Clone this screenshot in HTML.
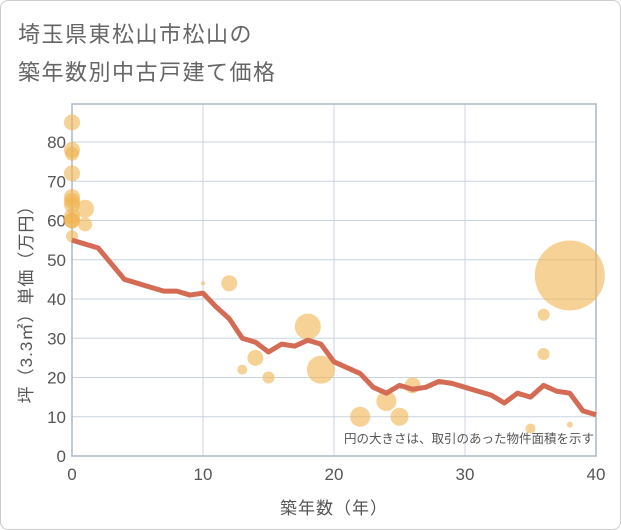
<!DOCTYPE html>
<html><head><meta charset="utf-8"><style>
body{margin:0;background:#fff;}
#wrap{position:relative;width:619px;height:528px;border:1px solid #ccc;border-radius:8px;overflow:hidden;font-family:"Liberation Sans","Noto Sans CJK JP",sans-serif;}
.title{position:absolute;left:17px;font-size:22px;color:#666;letter-spacing:1.5px;}
</style></head><body>
<div id="wrap">
<div class="title" style="top:16px">埼玉県東松山市松山の</div>
<div class="title" style="top:54px">築年数別中古戸建て価格</div>
<svg id="chart" width="621" height="530" style="position:absolute;left:-1px;top:-1px"></svg>
</div>
<script>
const lineYears=[0,1,2,3,4,5,6,7,8,9,10,11,12,13,14,15,16,17,18,19,20,21,22,23,24,25,26,27,28,29,30,31,32,33,34,35,36,37,38,39,40];
const linePrices=[55,54,53,49,45,44,43,42,42,41,41.5,38,35,30,29,26.5,28.5,28,29.5,28.5,24,22.5,21,17.5,16,18,17,17.5,19,18.5,17.5,16.5,15.5,13.5,16,15,18,16.5,16,11.5,10.5];
const bubbleYears=[0,0,0,0,0,0,0,0,0,0,0,1,1,10,12,13,14,15,18,19,22,24,25,26,35,36,36,38,38];
const bubblePrices=[85,78,77,72,66,65,64,61,60,60,56,63,59,44,44,22,25,20,33,22,10,14,10,18,7,36,26,46,8];
const bubbleAreas=[64,64,49,64,64,64,64,64,64,64,36,81,49,4,64,25,64,36,169,196,100,100,81,64,25,36,36,1225,9];
const xTicks=[0,10,20,30,40];
const yTicks=[0,10,20,30,40,50,60,70,80];
const NS="http://www.w3.org/2000/svg";
const svg=document.getElementById('chart');
const X0=72,X1=596,Y0=456,YT=104;
function xs(v){return X0+(X1-X0)*v/40;}
function ys(v){return Y0-v*3.925;}
function mk(t,a){const e=document.createElementNS(NS,t);for(const k in a)e.setAttribute(k,a[k]);svg.appendChild(e);return e;}
yTicks.forEach(t=>{
 const l=mk('line',{x1:X0,x2:X1,y1:ys(t),y2:ys(t),stroke:'#c8d4e0','stroke-width':1});
 
 
 const tx=mk('text',{x:X0-6,y:ys(t)+6,'text-anchor':'end','font-size':17,fill:'#555'});
 tx.textContent=t;
 
 
});
xTicks.forEach(t=>{
 const l=mk('line',{x1:xs(t),x2:xs(t),y1:YT,y2:Y0,stroke:'#c8d4e0','stroke-width':1});
 
 
 const tx=mk('text',{x:xs(t),y:Y0+24,'text-anchor':'middle','font-size':17,fill:'#555'});
 tx.textContent=t;
 
 
});
const frame=mk('rect',{x:X0,y:YT,width:X1-X0,height:Y0-YT,fill:'none',stroke:'#a8b8c8','stroke-width':1.5});


bubbleYears.forEach((yr,i)=>{
 const c=mk('circle',{cx:xs(yr),cy:ys(bubblePrices[i]),r:Math.sqrt(bubbleAreas[i]),fill:'rgba(240,180,80,0.6)'});
 
 
});
const p=mk('polyline',{points:lineYears.map((y,i)=>xs(y)+','+ys(linePrices[i])).join(' '),fill:'none',stroke:'#d46b55','stroke-width':5,'stroke-linejoin':'round'});


const note=mk('text',{x:594,y:443,'text-anchor':'end','font-size':12.5,fill:'#555'});
note.textContent='円の大きさは、取引のあった物件面積を示す';


const xt=mk('text',{x:334,y:514,'text-anchor':'middle','font-size':17,fill:'#555','letter-spacing':1});
xt.textContent='築年数（年）';


const yt=mk('text',{x:0,y:0,'text-anchor':'middle','font-size':17,fill:'#555','letter-spacing':1,transform:'translate(32,300) rotate(-90)'});
yt.textContent='坪（3.3㎡）単価（万円）';


</script>
</body></html>
